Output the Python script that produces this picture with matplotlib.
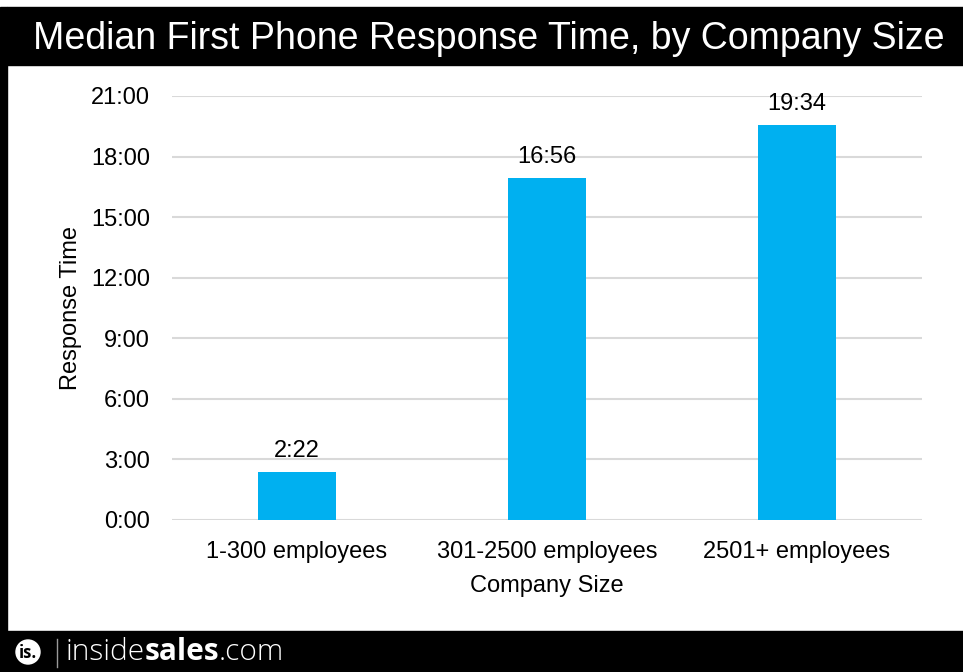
import matplotlib
matplotlib.use("Agg")
import matplotlib.pyplot as plt
from matplotlib.patches import Rectangle, Circle

plt.rcParams['font.family'] = ['Liberation Sans', 'DejaVu Sans']

categories = ["1-300 employees", "301-2500 employees", "2501+ employees"]
labels = ["2:22", "16:56", "19:34"]
# response times in minutes (mm:ss)
minutes = [2 + 22 / 60, 16 + 56 / 60, 19 + 34 / 60]
tick_minutes = [0, 3, 6, 9, 12, 15, 18, 21]
tick_labels = ["0:00", "3:00", "6:00", "9:00", "12:00", "15:00", "18:00", "21:00"]

W, H = 963, 672
fig = plt.figure(figsize=(W / 100, H / 100), dpi=100)

# frame elements in pixel coordinates
bg = fig.add_axes([0, 0, 1, 1])
bg.set_xlim(0, W)
bg.set_ylim(H, 0)
bg.axis("off")
bg.add_patch(Rectangle((7, 7), W - 7, 58, color="black"))
bg.add_patch(Rectangle((0, 7), 7, H - 7, color="black"))
bg.add_patch(Rectangle((0, 631), W, H - 631, color="black"))
bg.text(489, 39, "Median First Phone Response Time, by Company Size",
        color="white", fontsize=27, ha="center", va="center")

# footer logo
bg.add_patch(Circle((28, 652), 12, color="white"))
bg.text(28, 652.5, "is.", color="black", fontsize=12, fontweight="bold",
        ha="center", va="center", family=["Open Sans", "DejaVu Sans"])
bg.plot([57, 57], [639, 667], color="#9a9a9a", lw=1)
fig.canvas.draw()
r = fig.canvas.get_renderer()
parts = [("inside", "light"), ("sales", "bold"), (".com", "light")]
xpos = 65
for txt, wt in parts:
    t = bg.text(xpos, H - 652, txt, color="white", fontsize=21.5, fontweight=wt,
                ha="left", va="center", family=["Open Sans", "DejaVu Sans"],
                transform=None)
    xpos = t.get_window_extent(r).x1

# chart axes
x0, x1 = 172, 922
y0, y1 = 520, 96
ax = fig.add_axes([x0 / W, 1 - y0 / H, (x1 - x0) / W, (y0 - y1) / H])
ax.set_xlim(-0.5, 2.5)
ax.set_ylim(0, 21)
xs = range(len(categories))
ax.bar(xs, minutes, width=0.312, color="#00B0F0", zorder=3)
for x, v, lab in zip(xs, minutes, labels):
    ax.text(x, v + 0.5, lab, ha="center", va="bottom", fontsize=17)

ax.set_yticks(tick_minutes)
ax.set_yticklabels(tick_labels, fontsize=17)
ax.set_xticks(list(xs))
ax.set_xticklabels(categories, fontsize=17)
ax.tick_params(length=0)
ax.tick_params(axis="y", pad=16)
ax.tick_params(axis="x", pad=15)
ax.grid(axis="y", color="#d9d9d9", lw=1.5, zorder=0)
for s in ax.spines.values():
    s.set_visible(False)
ax.set_ylabel("Response Time", fontsize=17, labelpad=6)
ax.set_xlabel("Company Size", fontsize=17, labelpad=9)

fig.savefig("out.png", dpi=100)
